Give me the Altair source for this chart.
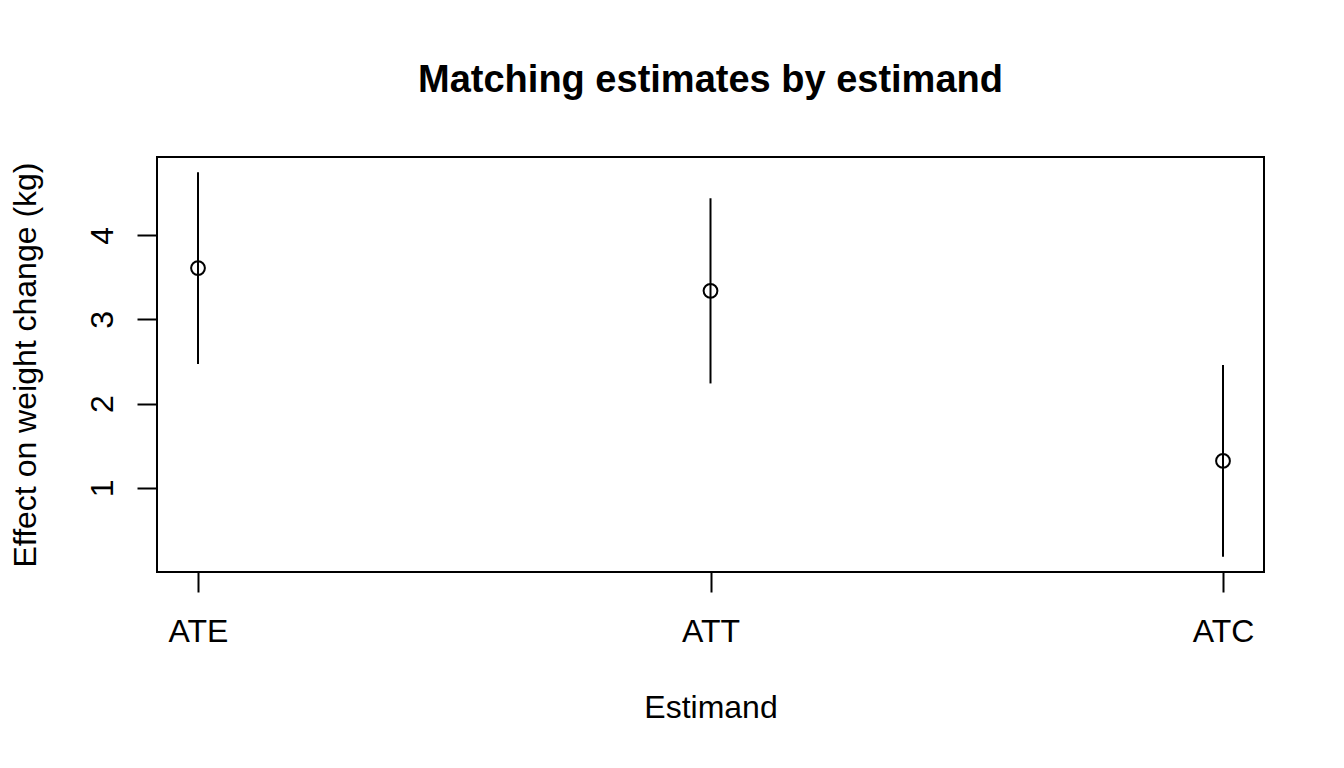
import altair as alt
import pandas as pd

estimands = ["ATE", "ATT", "ATC"]
positions = [1, 2, 3]
estimates = [3.61, 3.34, 1.32]
lower = [2.47, 2.24, 0.18]
upper = [4.75, 4.44, 2.46]

df = pd.DataFrame({
    "pos": positions,
    "estimand": estimands,
    "est": estimates,
    "lo": lower,
    "hi": upper,
})

FONT = "Liberation Sans"
FS = 32

xscale = alt.Scale(domain=[0.92, 3.08], nice=False, zero=False)
yscale = alt.Scale(domain=[0.0, 4.93], nice=False, zero=False)

label_expr = "datum.value == 1 ? 'ATE' : datum.value == 2 ? 'ATT' : 'ATC'"

xaxis = alt.Axis(
    values=[1, 2, 3], labelExpr=label_expr, title="Estimand",
    grid=False, domain=False, tickColor="black", tickSize=20, tickWidth=2,
    labelFont=FONT, labelFontSize=FS, labelColor="black",
    labelBaseline="alphabetic", labelPadding=49, labelFlush=False,
    titleFont=FONT, titleFontSize=FS, titleFontWeight="normal", titleColor="black",
    titleBaseline="alphabetic", titleY=145,
)
yaxis = alt.Axis(
    values=[1, 2, 3, 4], format="d", title="Effect on weight change (kg)",
    grid=False, domain=False, tickColor="black", tickSize=20, tickWidth=2,
    labelFont=FONT, labelFontSize=FS, labelColor="black",
    labelAngle=270, labelAlign="center", labelBaseline="alphabetic", labelPadding=25,
    titleFont=FONT, titleFontSize=FS, titleFontWeight="normal", titleColor="black",
    titleAngle=270, titleBaseline="alphabetic", titleX=-122, titleY=207.5,
)

base = alt.Chart(df)

rules = base.mark_rule(color="black", strokeWidth=2).encode(
    x=alt.X("pos:Q", scale=xscale, axis=xaxis),
    y=alt.Y("lo:Q", scale=yscale, axis=yaxis),
    y2="hi:Q",
)

points = base.mark_point(shape="circle", filled=False, color="black", size=190,
                         strokeWidth=2, opacity=1).encode(
    x=alt.X("pos:Q", scale=xscale),
    y=alt.Y("est:Q", scale=yscale),
)

chart = (rules + points).properties(
    width=1107,
    height=415,
    title=alt.TitleParams(
        "Matching estimates by estimand", font=FONT, fontSize=38, fontWeight="bold",
        color="black", anchor="middle", baseline="alphabetic", offset=27,
    ),
    autosize=alt.AutoSizeParams(type="none"),
    padding={"left": 157, "top": 157, "right": 80, "bottom": 196},
    background="white",
).configure_view(stroke="black", strokeWidth=2)

chart.save("out.html", embed_options={"renderer": "svg", "actions": False})
